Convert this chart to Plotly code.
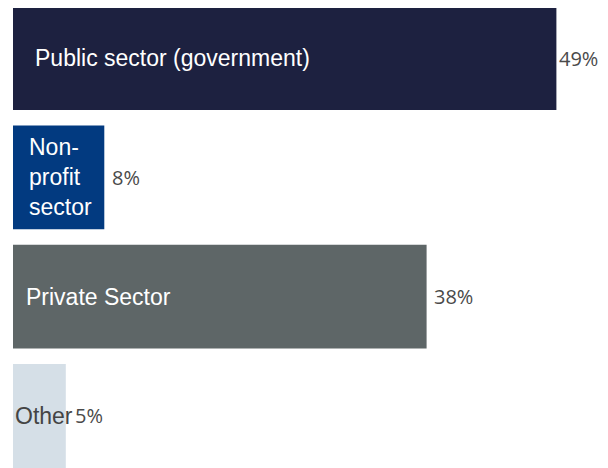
import plotly.graph_objects as go

categories = ["Public sector (government)", "Non-profit sector", "Private Sector", "Other"]
display_names = ["Public sector (government)", "Non-<br>profit<br>sector", "Private Sector", "Other"]
values = [49.4, 8.3, 37.6, 4.8]
value_labels = ["49%", "8%", "38%", "5%"]

bar_colors = ["#1d2140", "#023a80", "#5e6667", "#d5dfe7"]
name_colors = ["#ffffff", "#ffffff", "#ffffff", "#444444"]
name_shift = [20, 14, 11, 0]
value_shift = [1, 6, 5, 7]

fig = go.Figure()
fig.add_trace(go.Bar(
    x=values, y=categories, orientation="h",
    marker=dict(color=bar_colors, line=dict(width=0)),
    hoverinfo="skip",
))

annotations = []
for cat, nm, col, sh, v, lab, vs in zip(categories, display_names, name_colors, name_shift,
                                        values, value_labels, value_shift):
    annotations.append(dict(
        x=0, y=cat, xref="x", yref="y", text=nm, showarrow=False,
        xanchor="left", xshift=sh, align="left",
        font=dict(family="Liberation Sans, Arial, sans-serif", size=23, color=col),
    ))
    annotations.append(dict(
        x=v, y=cat, xref="x", yref="y", text=lab, showarrow=False,
        xanchor="left", xshift=vs,
        font=dict(family="Open Sans, sans-serif", size=20, color="#4a4a4a"),
    ))

fig.update_layout(
    width=600, height=460,
    margin=dict(l=0, r=0, t=0, b=0),
    paper_bgcolor="#ffffff", plot_bgcolor="#ffffff",
    bargap=0.13,
    showlegend=False,
    xaxis=dict(range=[-5/11.0, 595/11.0], visible=False, fixedrange=True),
    yaxis=dict(range=[3.436, -0.419], visible=False, fixedrange=True,
               categoryorder="array", categoryarray=categories),
    annotations=annotations,
)

fig.write_html("out.html")
